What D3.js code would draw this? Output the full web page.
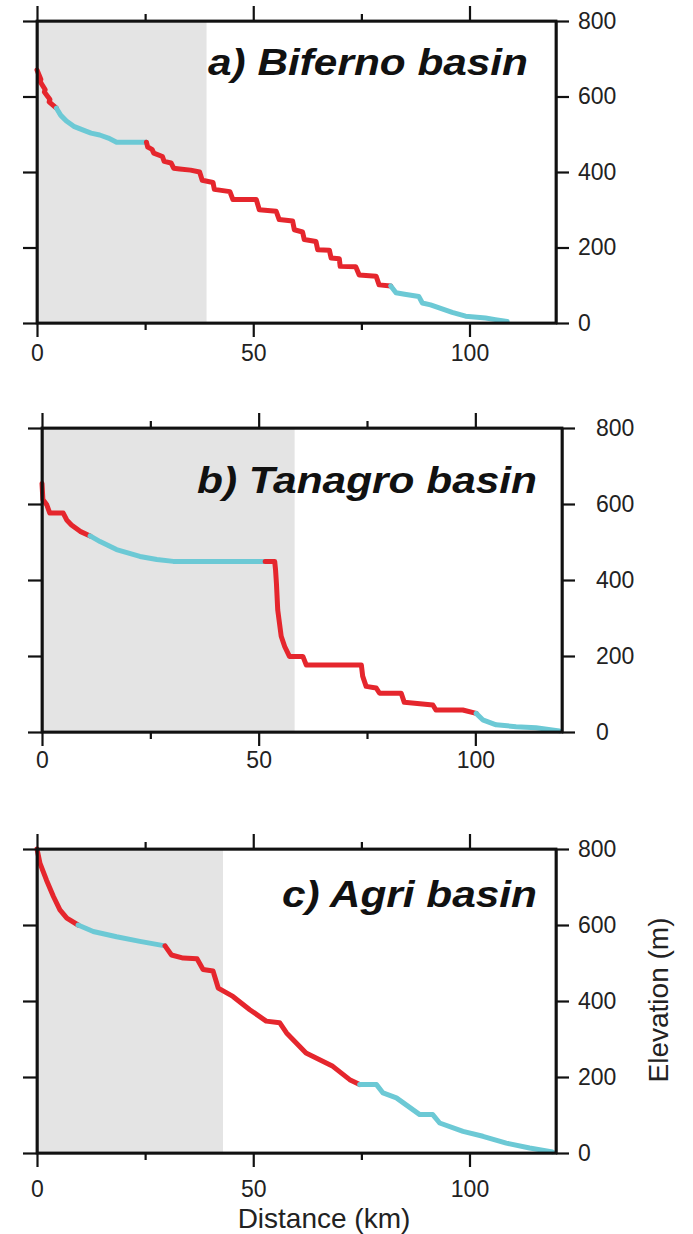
<!DOCTYPE html>
<html>
<head>
  <meta charset="utf-8">
  <title>River profiles</title>
  <script src="https://d3js.org/d3.v7.min.js"></script>
  <style>
    body { margin: 0; background: #fff; }
    svg { font-family: "Liberation Sans", Arial, Helvetica, sans-serif; }
    .axis path, .axis line { stroke: #111; stroke-width: 2.2px; }
    .axis text { font-size: 23px; fill: #222; }
    .frame { fill: none; stroke: #111; stroke-width: 2.8px; }
    .profile { fill: none; stroke-width: 5px; stroke-linejoin: round; stroke-linecap: round; }
    .title { font-size: 36px; font-weight: bold; font-style: italic; fill: #111; }
    .label { font-size: 28px; fill: #222; }
  </style>
</head>
<body>
  <svg width="693" height="1234"></svg>
  <script>
    // ticks shared by all three panels
    const xTicks = [0, 50, 100];
    const xMinor = [25, 75];
    const yTicks = [0, 200, 400, 600, 800];

    const titles = ["a) Biferno basin", "b) Tanagro basin", "c) Agri basin"];
    // downstream limit of the grey band (km)
    const shadeKm = [39.2, 58.3, 43.0];

    // long profiles: distance (km), elevation (m); "steep" reaches red, "gentle" reaches cyan
    const biferno = [
      {type: "steep", pts: [[0, 670], [0.9, 645], [0.7, 640], [1.9, 618], [1.7, 612], [3.0, 592], [2.8, 586], [4.5, 569]]},
      {type: "gentle", pts: [[4.5, 569], [5.5, 550], [6.8, 535], [8.5, 521], [10.7, 511], [12.5, 503], [14.5, 498], [16.5, 490], [18.4, 479], [25.3, 479]]},
      {type: "steep", pts: [[25.3, 479], [25.6, 466], [26.6, 460], [27.0, 450], [29.0, 441], [29.4, 428], [31.0, 424], [31.6, 410], [33.0, 408],
        [35.5, 405], [37.6, 400], [38.2, 378], [40.7, 372], [41.0, 354], [44.6, 348], [45.3, 327], [50.7, 327], [51.4, 300],
        [55.3, 296], [56.0, 274], [59.1, 270], [59.5, 247], [61.4, 241], [61.8, 221], [64.5, 216], [64.9, 194], [67.6, 193],
        [68.0, 172], [69.9, 170], [70.1, 150], [73.7, 149], [74.5, 127], [78.4, 124], [79.1, 101], [81.8, 98]]},
      {type: "gentle", pts: [[81.8, 98], [83.0, 80], [85.0, 76], [88.3, 70], [89.1, 53], [91.0, 48], [93.0, 40], [96.0, 28],
        [99.1, 18], [103.7, 13], [106.0, 9], [108.7, 4]]}
    ];

    const tanagro = [
      {type: "steep", pts: [[0, 654], [0.2, 612], [1.1, 598], [1.8, 576], [4.9, 576], [5.7, 558], [6.8, 545], [8.8, 528], [11.1, 516]]},
      {type: "gentle", pts: [[11.1, 516], [13.4, 501], [17.2, 480], [22.6, 462], [26.5, 454], [30.3, 449], [51.5, 449]]},
      {type: "steep", pts: [[51.5, 449], [53.7, 449], [53.9, 426], [54.1, 391], [54.4, 321], [55.2, 252], [56.0, 225], [57.1, 199],
        [60.2, 199], [61.0, 176], [73.7, 176], [74.0, 147], [74.8, 120], [77.1, 116], [77.9, 102], [82.9, 102], [83.6, 78],
        [90.2, 71], [90.9, 58], [97.1, 58], [100.2, 49]]},
      {type: "gentle", pts: [[100.2, 49], [101.7, 32], [104.8, 19], [109.4, 14], [114.0, 11], [119.4, 3]]}
    ];

    const agri = [
      {type: "steep", pts: [[0, 800], [0.7, 762], [2.2, 718], [3.8, 675], [5.3, 640], [6.9, 618], [9.5, 600]]},
      {type: "gentle", pts: [[9.5, 600], [13.0, 583], [18.4, 569], [23.8, 557], [29.6, 545]]},
      {type: "steep", pts: [[29.6, 545], [31.1, 521], [33.8, 513], [37.0, 511], [38.4, 483], [40.7, 479], [41.9, 434], [45.3, 412],
        [49.2, 377], [53.0, 347], [56.1, 343], [57.7, 316], [62.2, 263], [68.4, 228], [72.3, 193], [74.6, 180]]},
      {type: "gentle", pts: [[74.6, 180], [78.5, 180], [80.0, 158], [83.1, 145], [88.5, 101], [91.5, 101], [93.1, 79], [98.5, 57],
        [103.1, 44], [108.5, 26], [113.9, 13], [119.2, 3]]}
    ];

    const profiles = [biferno, tanagro, agri];
    const colors = {steep: "#e5262d", gentle: "#6cc9d5"};

    // panel boxes on the page
    const boxes = [
      {x0: 37, y0: 21, x1: 556, y1: 323, xPad: 8, yPad: 9, titleRight: 528, titleY: 75, titleW: 320},
      {x0: 42, y0: 428, x1: 562, y1: 732, xPad: 6, yPad: 21, titleRight: 537, titleY: 493, titleW: 340},
      {x0: 37, y0: 849, x1: 556, y1: 1153, xPad: 14, yPad: 9, titleRight: 537, titleY: 907, titleW: 255}
    ];

    const svg = d3.select("svg");

    boxes.forEach(function (b, i) {
      const x = d3.scaleLinear().domain([0, 120]).range([b.x0, b.x1]);
      const y = d3.scaleLinear().domain([0, 800]).range([b.y1, b.y0]);
      const g = svg.append("g");

      g.append("rect")
        .attr("x", x(0)).attr("y", y(800))
        .attr("width", x(shadeKm[i]) - x(0)).attr("height", y(0) - y(800))
        .attr("fill", "#e4e4e4");

      g.append("text").attr("class", "title")
        .attr("x", b.titleRight - b.titleW).attr("y", b.titleY)
        .attr("textLength", b.titleW).attr("lengthAdjust", "spacingAndGlyphs")
        .text(titles[i]);

      const line = d3.line().x(d => x(d[0])).y(d => y(d[1]));
      g.selectAll("path.profile")
        .data(profiles[i])
        .join("path")
        .attr("class", "profile")
        .attr("stroke", d => colors[d.type])
        .attr("d", d => line(d.pts));

      // axes
      g.append("g").attr("class", "axis")
        .attr("transform", `translate(0,${b.y1})`)
        .call(d3.axisBottom(x).tickValues(xTicks).tickSize(14).tickSizeOuter(0).tickPadding(b.xPad).tickFormat(d3.format("d")));
      g.append("g").attr("class", "axis")
        .attr("transform", `translate(0,${b.y1})`)
        .call(d3.axisBottom(x).tickValues(xMinor).tickSize(7).tickSizeOuter(0).tickFormat(""))
        .call(s => s.select(".domain").remove());
      g.append("g").attr("class", "axis")
        .attr("transform", `translate(0,${b.y0})`)
        .call(d3.axisTop(x).tickValues(xTicks).tickSize(15).tickSizeOuter(0).tickFormat(""));
      g.append("g").attr("class", "axis")
        .attr("transform", `translate(0,${b.y0})`)
        .call(d3.axisTop(x).tickValues(xMinor).tickSize(7).tickSizeOuter(0).tickFormat(""))
        .call(s => s.select(".domain").remove());
      g.append("g").attr("class", "axis")
        .attr("transform", `translate(${b.x0},0)`)
        .call(d3.axisLeft(y).tickValues(yTicks).tickSize(14).tickSizeOuter(0).tickFormat(""));
      g.append("g").attr("class", "axis")
        .attr("transform", `translate(${b.x1},0)`)
        .call(d3.axisRight(y).tickValues(yTicks).tickSize(13).tickSizeOuter(0).tickPadding(b.yPad));

      g.append("rect").attr("class", "frame")
        .attr("x", b.x0).attr("y", b.y0)
        .attr("width", b.x1 - b.x0).attr("height", b.y1 - b.y0);
    });

    svg.append("text").attr("class", "label")
      .attr("x", 324).attr("y", 1228)
      .attr("text-anchor", "middle")
      .text("Distance (km)");

    svg.append("text").attr("class", "label")
      .attr("transform", "translate(658,1000) rotate(-90)")
      .attr("text-anchor", "middle")
      .attr("dominant-baseline", "central")
      .text("Elevation (m)");
  </script>
</body>
</html>
